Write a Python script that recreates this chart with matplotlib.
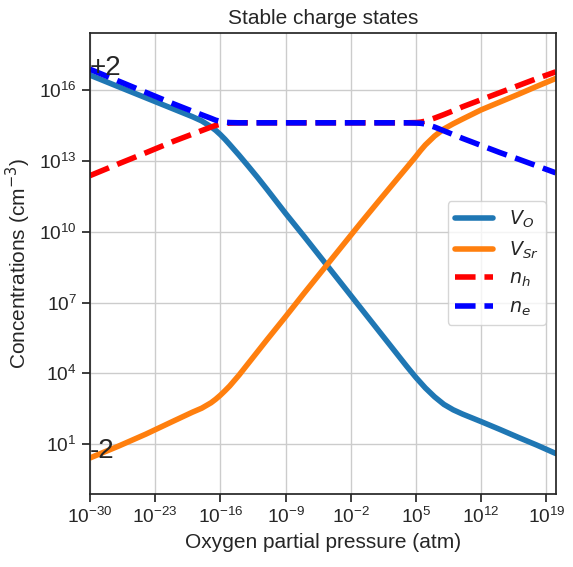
import numpy as np
import matplotlib
matplotlib.use("Agg")
import matplotlib.pyplot as plt
import seaborn as sns

# log10 of oxygen partial pressure (atm)
log_pO2 = [-30, -27, -24, -21, -19, -18, -17, -16.5, -16, -15.5, -15, -14, -13, -12, -11,
           -9, -7, -5, -3, -1, 1, 3, 4, 5, 5.5, 6, 7, 8, 9, 10, 12, 14, 16, 18, 20]

# log10 of concentrations (cm^-3)
log_VO = [16.64, 16.16, 15.68, 15.20, 14.88, 14.70, 14.45, 14.30, 14.12, 13.92, 13.70, 13.25, 12.78, 12.30, 11.80,
          10.78, 9.80, 8.80, 7.80, 6.80, 5.80, 4.80, 4.30, 3.82, 3.60, 3.38, 3.00, 2.68, 2.45, 2.27, 1.95, 1.62, 1.28, 0.95, 0.60]
log_VSr = [0.41, 0.90, 1.42, 1.98, 2.35, 2.52, 2.75, 2.90, 3.07, 3.26, 3.46, 3.92, 4.42, 4.92, 5.42,
           6.40, 7.40, 8.38, 9.36, 10.34, 11.30, 12.25, 12.72, 13.20, 13.45, 13.68, 14.06, 14.36, 14.58, 14.78, 15.17, 15.50, 15.83, 16.17, 16.50]
log_nh = [12.38, 12.87, 13.35, 13.84, 14.14, 14.29, 14.44, 14.51, 14.56, 14.59, 14.61, 14.62, 14.62, 14.62, 14.62,
          14.62, 14.62, 14.62, 14.62, 14.62, 14.62, 14.62, 14.62, 14.63, 14.65, 14.69, 14.82, 14.97, 15.13, 15.30, 15.60, 15.90, 16.20, 16.50, 16.78]
log_ne = [16.89, 16.40, 15.91, 15.42, 15.11, 14.96, 14.81, 14.73, 14.68, 14.65, 14.63, 14.62, 14.62, 14.62, 14.62,
          14.62, 14.62, 14.62, 14.62, 14.62, 14.62, 14.62, 14.62, 14.61, 14.60, 14.57, 14.44, 14.28, 14.12, 13.96, 13.66, 13.36, 13.08, 12.79, 12.50]

xtick_exps = [-30, -23, -16, -9, -2, 5, 12, 19]
ytick_exps = [1, 4, 7, 10, 13, 16]

sns.set_theme(style="ticks", font_scale=1.25)
plt.rcParams['font.family'] = ['Liberation Sans', 'DejaVu Sans']
plt.rcParams['mathtext.fontset'] = 'dejavusans'

x = 10.0 ** np.array(log_pO2)
fig = plt.figure(figsize=(5.73, 5.67), dpi=100)
ax = fig.add_axes([0.157, 0.1287, 0.8128, 0.8136])

ax.plot(x, 10.0 ** np.array(log_VO), color='#1f77b4', lw=4, label='$V_O$')
ax.plot(x, 10.0 ** np.array(log_VSr), color='#ff7f0e', lw=4, label='$V_{Sr}$')
ax.plot(x, 10.0 ** np.array(log_nh), color='red', lw=4, ls='--', label='$n_h$')
ax.plot(x, 10.0 ** np.array(log_ne), color='blue', lw=4, ls='--', label='$n_e$')

ax.text(x[0], 10.0 ** log_VO[0], '+2', fontsize=20, color='#262626', ha='left', va='baseline')
ax.text(x[0], 10.0 ** log_VSr[0], '-2', fontsize=20, color='#262626', ha='left', va='baseline')

ax.set_xscale('log')
ax.set_yscale('log')
ax.set_xlim(1e-30, 1e20)
ax.set_ylim(10 ** -1.12, 10 ** 18.44)
ax.set_xticks([10.0 ** e for e in xtick_exps])
ax.set_yticks([10.0 ** e for e in ytick_exps])
ax.minorticks_off()
ax.grid(True, color='#cccccc', lw=1)
ax.set_axisbelow(True)

ax.set_title('Stable charge states')
ax.set_xlabel('Oxygen partial pressure (atm)')
ax.set_ylabel('Concentrations (cm$^{-3}$)')
ax.legend(loc='center right')

fig.savefig('out.png', dpi=100)
